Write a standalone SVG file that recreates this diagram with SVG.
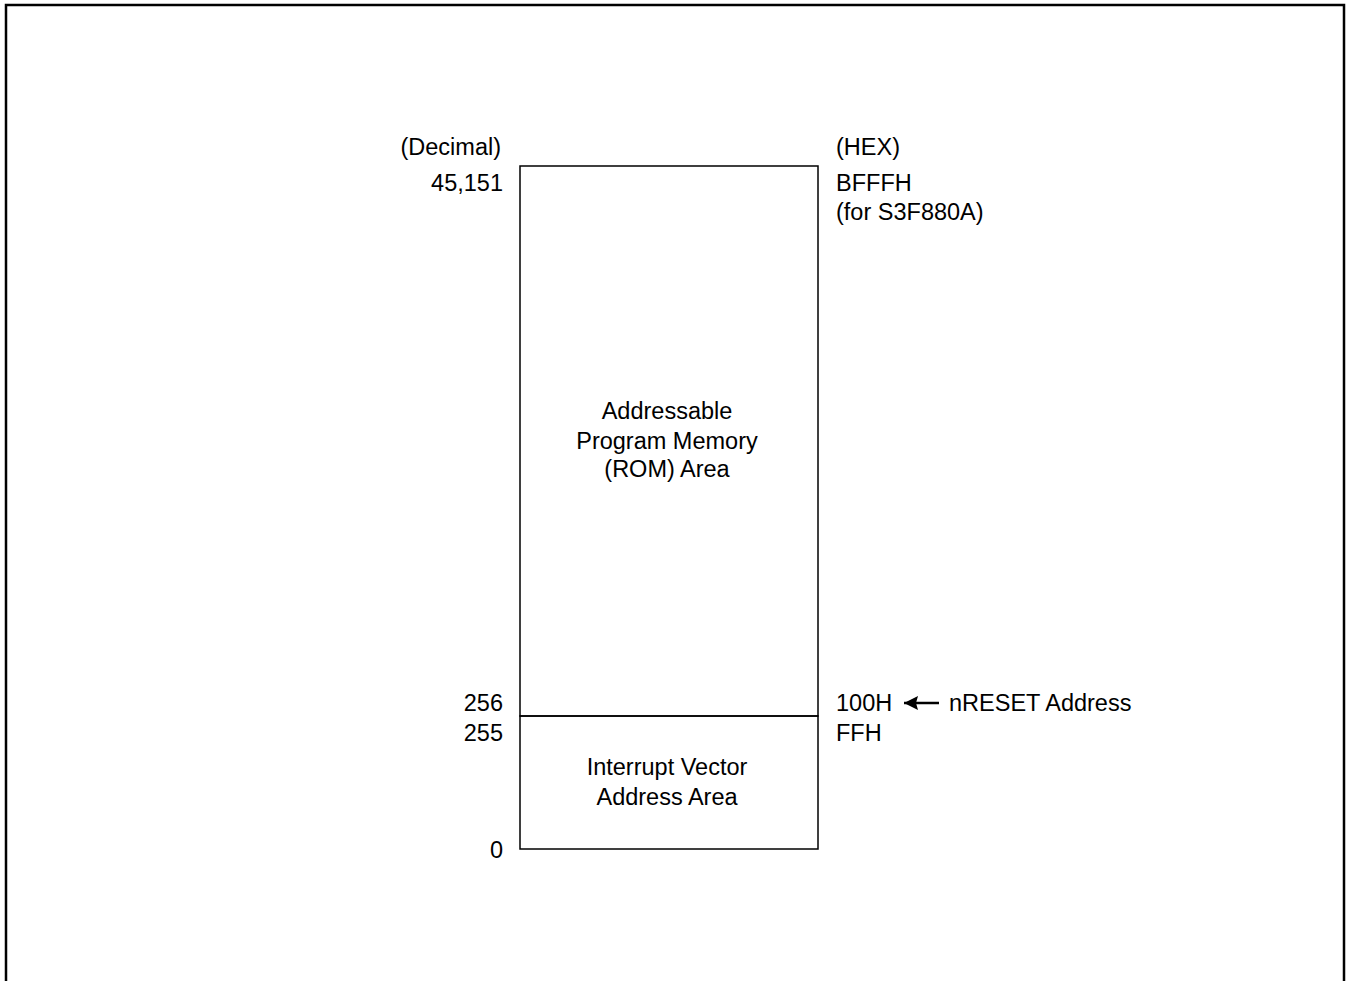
<svg xmlns="http://www.w3.org/2000/svg" width="1347" height="981" viewBox="0 0 1347 981">
<style>
text{font-family:"Liberation Sans",Arial,sans-serif;font-size:23.5px;fill:#000}
.l{text-anchor:end}
.c{text-anchor:middle}
.box{fill:none;stroke:#000;stroke-width:1.5}
</style>
<defs>
<marker id="ah" viewBox="0 0 14 14" refX="14" refY="7" markerWidth="14" markerHeight="14" orient="auto" markerUnits="userSpaceOnUse">
<path d="M14,7 L0,0 L2,7 L0,14 z" fill="#000"/>
</marker>
</defs>
<rect width="1347" height="981" fill="#fff"/>
<path d="M6,981 V5 H1344 V981" fill="none" stroke="#000" stroke-width="2.5"/>
<g id="rom">
<rect class="box" x="520" y="166" width="298" height="550"/>
<text class="c" x="667" y="419">Addressable</text>
<text class="c" x="667" y="449">Program Memory</text>
<text class="c" x="667" y="477">(ROM) Area</text>
</g>
<g id="ivec">
<rect class="box" x="520" y="716" width="298" height="133"/>
<text class="c" x="667" y="775">Interrupt Vector</text>
<text class="c" x="667" y="805">Address Area</text>
</g>
<g id="labels">
<text class="l" x="501" y="155">(Decimal)</text>
<text x="836" y="155">(HEX)</text>
<text class="l" x="503" y="191">45,151</text>
<text x="836" y="191">BFFFH</text>
<text x="836" y="220">(for S3F880A)</text>
<text class="l" x="503" y="711">256</text>
<text x="836" y="711">100H</text>
<text x="949" y="711">nRESET Address</text>
<text class="l" x="503" y="741">255</text>
<text x="836" y="741">FFH</text>
<text class="l" x="503" y="858">0</text>
</g>
<g id="connectors">
<line x1="939" y1="703" x2="904" y2="703" stroke="#000" stroke-width="2.3" marker-end="url(#ah)"/>
</g>
</svg>
